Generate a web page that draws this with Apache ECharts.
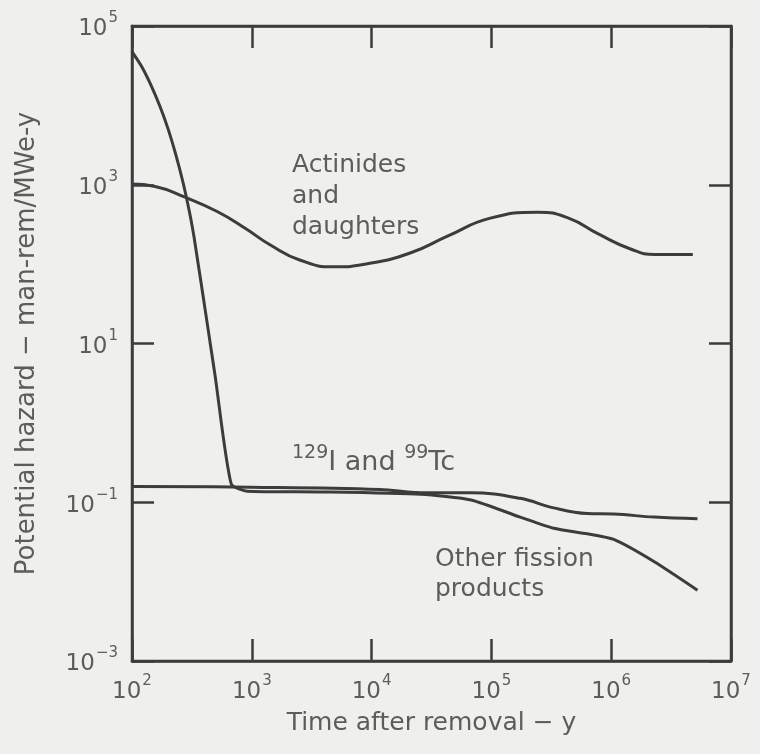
<!DOCTYPE html>
<html>
<head>
<meta charset="utf-8">
<script src="https://cdn.jsdelivr.net/npm/echarts@6/dist/echarts.min.js"></script>
<style>
  html, body { margin: 0; padding: 0; background: #efefed; }
  #chart { width: 760px; height: 754px; }
</style>
</head>
<body>
<div id="chart"></div>
<script>
// Potential hazard of spent fuel vs. time after removal (log-log)

// Actinides and daughters
const actinideYears = [100, 156, 277, 514, 880, 1430, 2540, 4800, 9230, 21000, 43000, 98000, 245000, 440000, 780000, 1450000, 2300000, 4800000];
const actinideHazard = [1020, 952, 697, 460, 283, 174, 112, 92.5, 101, 138, 225, 380, 450, 380, 240, 155, 132, 132];

// 129I and 99Tc
const iodineTcYears = [100, 980, 11700, 25700, 67600, 174000, 331000, 631000, 1050000, 2290000, 5250000];
const iodineTcHazard = [0.158, 0.155, 0.145, 0.132, 0.132, 0.112, 0.085, 0.072, 0.071, 0.065, 0.062];

// Other fission products
const otherFpYears = [100, 121, 144, 171, 200, 233, 267, 300, 330, 431, 494, 673, 912, 3700, 25700, 67600, 174000, 331000, 631000, 1050000, 2290000, 5250000];
const otherFpHazard = [47600, 30500, 18000, 9730, 5060, 2345, 1060, 474, 216, 15.4, 3.93, 0.17, 0.138, 0.135, 0.126, 0.107, 0.065, 0.047, 0.040, 0.034, 0.0178, 0.0078];

// Axis ticks (decades)
const xTicks = [1e2, 1e3, 1e4, 1e5, 1e6, 1e7];
const yTicks = [1e-3, 1e-1, 1e1, 1e3, 1e5];

const INK = '#3c3c3c';
const TEXT = '#5c5c5c';
const FONT = '"DejaVu Sans", Verdana, sans-serif';

function pow10Label(v) {
  const e = Math.round(Math.log10(v));
  const exp = e < 0 ? '\u2212' + (-e) : String(e);
  return '{b|10}{s|' + exp + '}';
}

const richLabel = {
  b: { fontSize: 23, fontFamily: FONT, color: TEXT, lineHeight: 30, verticalAlign: 'bottom' },
  s: { fontSize: 15, fontFamily: FONT, color: TEXT, lineHeight: 30, verticalAlign: 'top', padding: [0, 0, 0, 1] }
};

const tickStyle = { inside: true, length: 22, lineStyle: { color: INK, width: 2.5 } };

const pairs = (xs, ys) => xs.map((x, i) => [x, ys[i]]);

const chart = echarts.init(document.getElementById('chart'), null, { renderer: 'canvas' });

chart.setOption({
  backgroundColor: '#efefed',
  animation: false,
  grid: {
    left: 132, right: 29, top: 26, bottom: 93,
    show: true, borderColor: INK, borderWidth: 2.5, backgroundColor: 'transparent'
  },
  xAxis: [
    {
      type: 'log', logBase: 10, min: 1e2, max: 1e7, position: 'bottom',
      name: 'Time after removal \u2212 y', nameLocation: 'middle', nameGap: 50,
      nameTextStyle: { fontSize: 25, fontFamily: FONT, color: TEXT },
      axisLine: { show: true, lineStyle: { color: INK, width: 2.5 } },
      axisTick: Object.assign({ customValues: xTicks }, tickStyle),
      axisLabel: { customValues: xTicks, margin: 13, formatter: pow10Label, rich: richLabel },
      splitLine: { show: false }, minorTick: { show: false }
    },
    {
      type: 'log', logBase: 10, min: 1e2, max: 1e7, position: 'top',
      axisLine: { show: true, lineStyle: { color: INK, width: 2.5 } },
      axisTick: Object.assign({ customValues: xTicks }, tickStyle),
      axisLabel: { show: false }, splitLine: { show: false }
    }
  ],
  yAxis: [
    {
      type: 'log', logBase: 10, min: 1e-3, max: 1e5, position: 'left',
      name: 'Potential hazard \u2212 man-rem/MWe-y', nameLocation: 'middle', nameGap: 92,
      nameTextStyle: { fontSize: 26, fontFamily: FONT, color: TEXT },
      axisLine: { show: true, lineStyle: { color: INK, width: 2.5 } },
      axisTick: Object.assign({ customValues: yTicks }, tickStyle),
      axisLabel: { customValues: yTicks, margin: 14, formatter: pow10Label, rich: richLabel },
      splitLine: { show: false }
    },
    {
      type: 'log', logBase: 10, min: 1e-3, max: 1e5, position: 'right',
      axisLine: { show: true, lineStyle: { color: INK, width: 2.5 } },
      axisTick: Object.assign({ customValues: yTicks }, tickStyle),
      axisLabel: { show: false }, splitLine: { show: false }
    }
  ],
  series: [
    {
      name: 'Actinides and daughters', type: 'line', smooth: 0.5,
      data: pairs(actinideYears, actinideHazard),
      showSymbol: false, lineStyle: { color: INK, width: 3 }
    },
    {
      name: '129I and 99Tc', type: 'line', smooth: 0.4,
      data: pairs(iodineTcYears, iodineTcHazard),
      showSymbol: false, lineStyle: { color: INK, width: 3 }
    },
    {
      name: 'Other fission products', type: 'line', smooth: 0.2,
      data: pairs(otherFpYears, otherFpHazard),
      showSymbol: false, lineStyle: { color: INK, width: 3 }
    }
  ],
  graphic: [
    { type: 'text', left: 292, top: 150, style: { text: 'Actinides\nand\ndaughters', font: '25px ' + FONT, fill: TEXT, lineHeight: 31 } },
    {
      type: 'text', left: 292, top: 444,
      style: {
        text: '{sup|129}{n|I and }{sup|99}{n|Tc}',
        rich: {
          sup: { fontSize: 19, fontFamily: FONT, fill: TEXT, lineHeight: 32, verticalAlign: 'top' },
          n: { fontSize: 27, fontFamily: FONT, fill: TEXT, lineHeight: 32, verticalAlign: 'bottom' }
        }
      }
    },
    { type: 'text', left: 435, top: 544, style: { text: 'Other fission\nproducts', font: '25px ' + FONT, fill: TEXT, lineHeight: 30 } }
  ]
});
</script>
</body>
</html>
